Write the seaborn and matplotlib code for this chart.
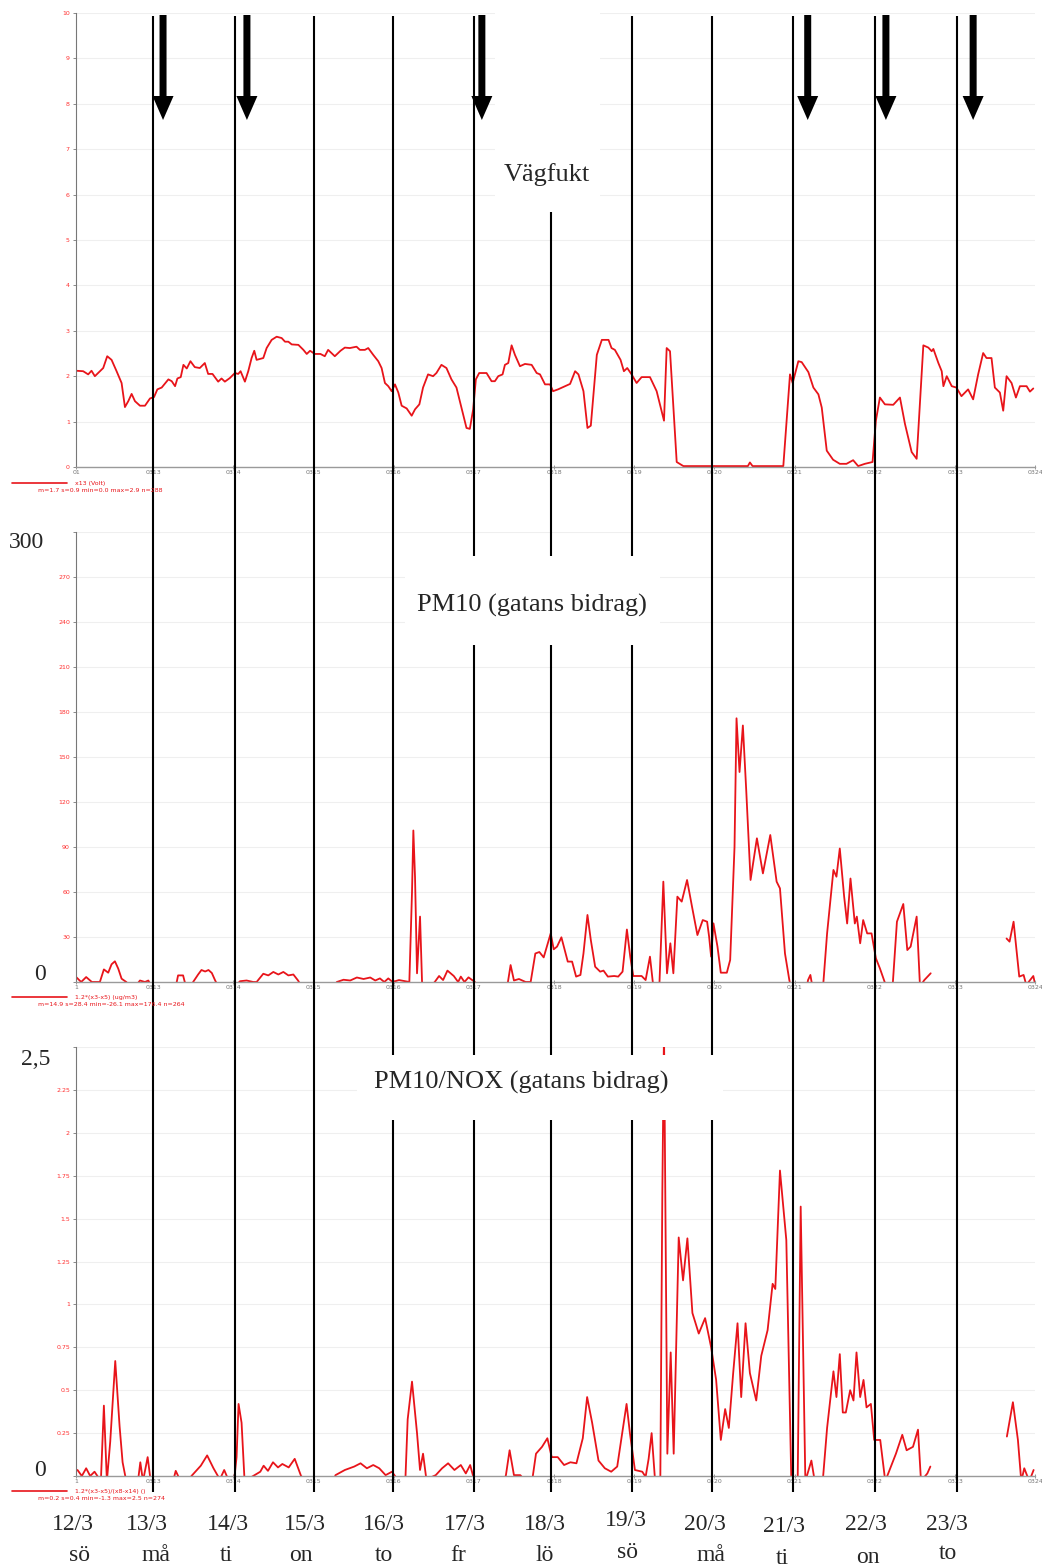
import numpy as np
import pandas as pd
import matplotlib
matplotlib.use("Agg")
import matplotlib.pyplot as plt
import seaborn as sns
from matplotlib.patches import Rectangle

# ---------------- data (hours since 12/3 00:00) ----------------
nan = np.nan

vagfukt_h = [1, 3.1, 4.6, 5.6, 6.6, 8.1, 9.1, 10.3, 11.6, 13.1, 14.6, 15.6, 16.6, 17.6, 18.6, 20.1,
             21.6, 23.1, 24.3, 25.3, 26.6, 28.6, 29.6, 30.6, 31.3, 32.3, 33.1, 34.1, 35.2, 36.5, 38,
             39.5, 40.5, 41.8, 43.5, 44.5, 45.5, 47, 48.5, 49.5, 50.2, 51.5, 52.5, 53.5, 54.3, 55,
             57, 58, 59.5, 61, 62.5, 63.5, 64.5, 65.5, 67.5, 69, 70, 71, 72.4, 74.1, 75.4, 76.4,
             78.4, 80.1, 81.4, 82.9, 84.9, 85.9, 87.4, 88.4, 89.9, 91.4, 92.4, 93.4, 94.4, 95.4,
             96.4, 97.4, 98.4, 99.9, 101.4, 102.4, 103.7, 104.8, 106.3, 107.8, 108.8, 110.3, 111.8,
             113.3, 114.8, 116.3, 117.8, 118.8, 119.8, 120.6, 121.6, 123.8, 125.3, 126.3, 127.3,
             128.6, 129.3, 130.3, 131.3, 132.3, 133.8, 135.3, 137.3, 138.8, 139.8, 141.3, 142.8,
             143.7, 145.2, 147.3, 148.8, 150.3, 151.3, 152.8, 154.0, 155.0, 156.8, 158.3, 160.3,
             161.2, 162.2, 163.9, 164.9, 165.9, 167.2, 168.7, 170.2, 172.7, 174.7, 176.9, 177.7,
             178.7, 180.7, 182.7, 202.0, 202.6, 203.4, 212.6, 214.6, 215.4, 217.1, 218.1, 220.1,
             221.6, 223.1, 224.1, 225.6, 227.5, 229.5, 231.5, 233.5, 235, 237, 239.3, 240.3, 241.5,
             243, 245.5, 247.5, 249, 251, 252.5, 254.5, 256, 257, 257.5, 259, 260, 260.5, 261.5,
             263, 264.4, 265.9, 267.9, 269.4, 270.9, 272.4, 273.4, 274.9, 275.9, 277.4, 278.4,
             279.4, 280.9, 282.2, 283.4, 285.4, 286.4, 287.4]
vagfukt_v = [2.12, 2.11, 2.04, 2.12, 2.0, 2.11, 2.18, 2.44, 2.36, 2.11, 1.85, 1.32, 1.45, 1.61, 1.45,
             1.35, 1.35, 1.51, 1.54, 1.71, 1.75, 1.93, 1.89, 1.78, 1.95, 1.98, 2.25, 2.17, 2.33, 2.2,
             2.18, 2.29, 2.05, 2.05, 1.88, 1.95, 1.88, 1.96, 2.07, 2.05, 2.11, 1.88, 2.11, 2.4, 2.56,
             2.36, 2.4, 2.62, 2.8, 2.87, 2.84, 2.76, 2.76, 2.7, 2.69, 2.58, 2.49, 2.56, 2.49, 2.49,
             2.44, 2.58, 2.44, 2.56, 2.63, 2.62, 2.65, 2.58, 2.58, 2.62, 2.47, 2.33, 2.18, 1.85, 1.78,
             1.67, 1.82, 1.64, 1.35, 1.29, 1.13, 1.27, 1.38, 1.75, 2.04, 2.0, 2.07, 2.25, 2.18, 1.93,
             1.75, 1.31, 0.86, 0.84, 1.27, 1.93, 2.07, 2.07, 1.89, 1.89, 2.0, 2.04, 2.25, 2.29, 2.68,
             2.47, 2.22, 2.27, 2.25, 2.07, 2.04, 1.82, 1.82, 1.67, 1.71, 1.78, 1.83, 2.11, 2.04, 1.67,
             0.86, 0.91, 2.47, 2.8, 2.8, 2.62, 2.58, 2.36, 2.11, 2.18, 2.04, 1.85, 1.98, 1.98, 1.67,
             1.02, 2.62, 2.55, 0.11, 0.02, 0.02, 0.1, 0.02, 0.02, 2.04, 1.85, 2.33, 2.31, 2.09, 1.75,
             1.6, 1.31, 0.36, 0.16, 0.07, 0.07, 0.15, 0.02, 0.07, 0.11, 1.02, 1.53, 1.38, 1.37, 1.53,
             0.95, 0.33, 0.18, 2.68, 2.63, 2.55, 2.6, 2.29, 2.11, 1.78, 2.0, 1.78, 1.75, 1.56, 1.71,
             1.49, 2.04, 2.51, 2.4, 2.4, 1.75, 1.64, 1.24, 2.0, 1.85, 1.53, 1.78, 1.78, 1.66, 1.73]

pm10_h = [1, 2.5, 4, 5.7, 8.1, 9.3, 10.6, 11.6, 12.6, 13.6, 14.6, 16, 18, 20.1, 21.6, 22.6, 24, 30,
          31.1, 31.5, 33, 33.5, 35, 36, 37.5, 38.5, 39.6, 40.6, 41.6, 42.6, 44, 48, 50, 52, 54, 55,
          57, 58.5, 60, 61.5, 63, 64.5, 66, 67.4, 69, 78, 79, 81, 83, 85, 87, 89, 90.5, 91.9, 93.2,
          94.4, 95.7, 97.6, 100.7, 101.5, 101.9, 102.4, 103, 103.9, 104.5, 106, 108.3, 109.6, 110.8,
          112.1, 114, 115.3, 116.1, 117.2, 118.4, 120.3, 122, 129, 130.2, 131, 132, 133.5, 135.5,
          137, 138.4, 139.6, 140.9, 143, 143.9, 144.9, 146.2, 148.1, 149.4, 150.6, 151.9, 152.8,
          154, 155, 156.3, 157.8, 158.8, 160.1, 162, 163.2, 164.5, 165.8, 166.8, 167.7, 170.2,
          171.4, 172.7, 173.7, 175.5, 176.7, 177.8, 178.8, 179.7, 180.9, 182.2, 183.8, 185.3,
          186.9, 188.5, 189.8, 190.4, 191, 191.7, 192.9, 193.9, 195.7, 196.7, 198, 198.6, 199.5,
          200.5, 201.5, 202.8, 204.7, 206.5, 208.7, 210.6, 211.6, 213.1, 214.4, 215, 219.5, 220,
          220.7, 221.3, 224.5, 225.7, 227.6, 228.5, 229.5, 230.8, 231.7, 232.7, 234, 234.6, 235.6,
          236.5, 237.7, 239, 240.3, 241.5, 243.4, 245.3, 246.6, 248.5, 249.7, 250.7, 252.5, 253.5,
          254.8, 256.7, nan, 279.4, 280.3, 281.5, 283.2, 284.5, 285.3, 287.4, 288]
pm10_v = [3.3, 0, 3.3, 0, 0, 8.4, 6.2, 11.8, 13.8, 8.9, 2.2, 0, -5, 1, 0, 1, -5, -5, 0, 4.4, 4.4, 0,
          -5, 0, 5, 8, 7, 8, 6, 1, -5, -5, 0.5, 1, 0, 0, 5.5, 4.4, 6.7, 5, 6.7, 4.4, 5, 1, -5, -5, 0,
          1.5, 1, 3, 2, 3, 1, 2.4, 0, 2.4, 0, 1.3, 0, 60, 101, 70, 5.8, 43.6, 0, -5, 0, 4, 1.3, 7.6,
          4, 0, 3.6, 0, 3.1, 0, -5, -5, 0, 11.3, 1, 2, 0, 0, 19, 20, 16.4, 32.4, 21.8, 23.6, 29.8,
          13.6, 13.6, 3.6, 4.7, 19, 44.7, 28, 10.2, 6.9, 7.6, 3.6, 4, 3.6, 6.9, 35, 16.9, 4, 4, 1.3,
          16.9, -3, -3, 66.9, 5.8, 25.8, 5.8, 56.9, 53.6, 68, 50, 31.3, 41.3, 40.2, 30.2, 16.9, 39.1,
          23.6, 6.2, 6.2, 14.7, 90, 175.8, 140, 171, 128, 68, 95.8, 72.4, 98, 66.9, 62.4, 19, 1.3,
          -5, -5, 1.3, 4.7, -3, -3, 32.4, 74.7, 70.2, 89, 57, 39, 69, 39, 43.6, 25.8, 41.3, 32.4,
          32.4, 15.8, 9.1, -3, -3, 40.2, 52, 21.3, 23.6, 43.6, -3, 1.3, 5.8, nan, 29, 26.9, 40.2,
          3.6, 4.7, -2, 4, -2]

ratio_h = [1.4, 2.7, 4, 5.2, 6.5, 8.4, 9.3, 10.2, 11.2, 12.7, 14, 14.9, 16, 19.5, 20.2, 21, 22.4,
           23.3, 30, 30.8, 32, 35, 35.5, 38.3, 40.2, 42.1, 44, 45.3, 46.5, 48.3, 49, 49.6, 50.5,
           51.4, 56.1, 57.1, 58.4, 59.9, 61.4, 62.7, 64.6, 66.4, 68.3, 70, 78, 78.6, 81.4, 84.2,
           86.1, 88, 89.9, 91.7, 93.6, 95.5, 97.5, 99.5, 100.2, 101.5, 103, 103.9, 104.8, 105.8,
           108.6, 110.5, 112.3, 114.2, 116.1, 117.6, 118.9, 120.2, 129, 129.6, 130.7, 132, 133.9,
           135, 137.5, 138.6, 140.4, 142, 143.3, 145.1, 147, 148.9, 150.7, 152.6, 153.9, 155.4,
           157.3, 159.2, 161.1, 162.9, 164.4, 165.7, 166.7, 168.2, 170.4, 171.4, 172.3, 173.2,
           174.2, 175.8, 176.4, 176.9, 177.9, 178.9, 179.8, 181.3, 182.6, 183.9, 185.4, 187.3,
           189.2, 191, 192.5, 193.9, 195.2, 196.3, 197.6, 198.9, 200, 201.3, 202.6, 204.5, 206,
           207.9, 209.4, 210.2, 211.6, 213.5, 215, 216.9, 217.8, 219.2, 221, 222, 224.4, 225.7,
           227.6, 228.5, 229.5, 230.4, 231.3, 232.6, 233.6, 234.5, 235.6, 236.6, 237.5, 238.8,
           239.8, 241.6, 243.1, 246.3, 248.2, 249.5, 251.4, 252.9, 253.8, 255.7, 256.6, nan,
           279.5, 281.3, 282.8, 283.8, 284.7, 286.2, 287.5]
ratio_v = [0.035, 0, 0.045, 0, 0.025, -0.03, 0.41, -0.03, 0.2, 0.67, 0.29, 0.08, -0.03, -0.03, 0.08,
           -0.03, 0.11, -0.03, -0.03, 0.03, -0.02, -0.02, 0, 0.06, 0.12, 0.045, -0.02, 0.035, -0.02,
           -0.02, 0.11, 0.42, 0.31, -0.03, 0.025, 0.06, 0.03, 0.08, 0.05, 0.07, 0.05, 0.1, 0, -0.03,
           -0.03, 0.005, 0.035, 0.055, 0.074, 0.045, 0.064, 0.045, 0.005, 0.025, -0.03, -0.03, 0.33,
           0.55, 0.25, 0.035, 0.13, -0.02, 0.005, 0.045, 0.074, 0.035, 0.064, 0.015, 0.064, -0.03,
           -0.03, 0.005, 0.15, 0.005, 0.005, -0.02, -0.02, 0.13, 0.17, 0.22, 0.11, 0.11, 0.064, 0.08,
           0.074, 0.22, 0.46, 0.31, 0.09, 0.045, 0.025, 0.055, 0.25, 0.42, 0.25, 0.035, 0.025,
           -0.005, 0.1, 0.25, -0.02, -0.02, 1.65, 2.6, 0.13, 0.72, 0.13, 1.39, 1.14, 1.385, 0.95,
           0.83, 0.92, 0.75, 0.56, 0.21, 0.39, 0.28, 0.6, 0.89, 0.46, 0.89, 0.6, 0.44, 0.7, 0.85,
           1.12, 1.09, 1.78, 1.375, -0.03, -0.03, 1.57, -0.03, 0.09, -0.03, -0.03, 0.28, 0.61, 0.46,
           0.71, 0.37, 0.37, 0.5, 0.44, 0.72, 0.46, 0.56, 0.4, 0.42, 0.21, 0.21, -0.03, 0.13, 0.24,
           0.15, 0.17, 0.27, -0.03, 0.015, 0.055, nan, 0.23, 0.43, 0.21, -0.03, 0.045, -0.03, 0.035]

# day boundary lines and arrows (hours)
marker_lines_h = [24, 48.5, 72.2, 95.8, 120, 143.2, 167.3, 191.3, 215.5, 240, 264.6]
arrow_h = [27.0, 52.1, 122.4, 219.9, 243.3, 269.4]

tick_hours = [1] + [24 * d for d in range(1, 13)]
tick_days = ["0313", "0314", "0315", "0316", "0317", "0318", "0319", "0320", "0321", "0322", "0323", "0324"]

date_labels = ["12/3", "13/3", "14/3", "15/3", "16/3", "17/3", "18/3", "19/3", "20/3", "21/3", "22/3", "23/3"]
weekday_labels = ["sö", "må", "ti", "on", "to", "fr", "lö", "sö", "må", "ti", "on", "to"]

panel_titles = ["Vägfukt", "PM10 (gatans bidrag)", "PM10/NOX (gatans bidrag)"]
legend_names = ["x13 (Volt)", "1.2*(x3-x5) (ug/m3)", "1.2*(x3-x5)/(x8-x14) ()"]
legend_stats = ["m=1.7 s=0.9 min=0.0 max=2.9 n=288",
                "m=14.9 s=28.4 min=-26.1 max=176.4 n=264",
                "m=0.2 s=0.4 min=-1.3 max=2.5 n=274"]

# ---------------- layout ----------------
sns.set_theme(style="white")
plt.rcParams["font.family"] = ["DejaVu Sans"]
SERIF = ["Liberation Serif", "DejaVu Serif"]
RED = "#e8141a"

W, H = 1042, 1566
X0, PXH = 72.8, 3.342  # pixel of hour 0, pixels per hour
fig = plt.figure(figsize=(W / 100, H / 100), dpi=100)

# hand-placed label positions (pixels) of the date row
date_px = [(73, 1530), (147, 1530), (228, 1530), (305, 1530), (384, 1530), (465, 1530),
           (545, 1530), (626, 1526), (705, 1530), (784, 1532), (866, 1530), (947, 1530)]
wday_px = [(80, 1561), (156, 1561), (226, 1561), (301, 1561), (384, 1561), (458, 1561),
           (545, 1561), (627, 1558), (711, 1561), (782, 1564), (868, 1563), (948, 1559)]


def hx(px):
    return (px - X0) / PXH


def frame(h, v):
    df = pd.DataFrame({"h": h, "v": v})
    df["seg"] = df["v"].isna().cumsum()
    return df.dropna()


def make_panel(top_px, bot_px, df, ylim, yticks, ylabels, first_lab):
    l = X0 + 1 * PXH
    r = X0 + 288 * PXH
    ax = fig.add_axes([l / W, 1 - bot_px / H, (r - l) / W, (bot_px - top_px) / H])
    ax.set_facecolor("white")
    sns.lineplot(data=df, x="h", y="v", units="seg", estimator=None, color=RED,
                 lw=1.3, ax=ax, legend=False)
    ax.set_xlim(1, 288)
    ax.set_ylim(*ylim)
    ax.set_yticks(yticks)
    ax.set_yticklabels(ylabels)
    ax.set_xticks(tick_hours)
    ax.set_xticklabels([first_lab] + tick_days)
    ax.set_xlabel("")
    ax.set_ylabel("")
    for t in yticks:
        ax.axhline(t, color="#efefef", lw=0.8, zorder=0)
    for s in ["top", "right"]:
        ax.spines[s].set_visible(False)
    ax.spines["left"].set_color("#777777")
    ax.spines["left"].set_linewidth(0.8)
    ax.spines["bottom"].set_color("#9a9a9a")
    ax.spines["bottom"].set_linewidth(1.0)
    ax.tick_params(axis="y", colors="#777777", labelcolor="#ff3030", labelsize=4.5,
                   length=2.5, width=0.6, pad=2, left=True)
    ax.tick_params(axis="x", colors="#888888", labelcolor="#777777", labelsize=4.5,
                   length=3, width=0.6, direction="inout", pad=1, bottom=True)
    return ax


make_panel(13, 467, frame(vagfukt_h, vagfukt_v), (0, 10), list(range(0, 11)),
           [str(i) for i in range(0, 11)], "01")
pm_ticks = list(range(0, 301, 30))
make_panel(532, 982, frame(pm10_h, pm10_v), (0, 300), pm_ticks,
           [""] + [str(t) for t in pm_ticks[1:-1]] + [""], "1")
r_ticks = [i * 0.25 for i in range(11)]
r_labels = [""] + ["0.25", "0.5", "0.75", "1", "1.25", "1.5", "1.75", "2", "2.25"] + [""]
make_panel(1047, 1476, frame(ratio_h, ratio_v), (0, 2.5), r_ticks, r_labels, "1")

# ---------------- overlay (figure-wide annotations) ----------------
ov = fig.add_axes([0, 0, 1, 1], zorder=10)
ov.set_xlim(hx(0), hx(W))
ov.set_ylim(H, 0)
ov.axis("off")
ov.patch.set_alpha(0)

ov.vlines(marker_lines_h, 16, 1492, color="black", lw=1.5, zorder=2)

for h in arrow_h:
    ov.arrow(h, 15, 0, 105, width=7 / PXH, head_width=21 / PXH, head_length=24,
             length_includes_head=True, fc="black", ec="black", lw=0, zorder=5)

# white text boxes that cover the lines
boxes = [(495, 12, 600, 212), (405, 556, 660, 645), (357, 1055, 723, 1120)]
for (x1, y1, x2, y2) in boxes:
    ov.add_patch(Rectangle((hx(x1), y1), hx(x2) - hx(x1), y2 - y1,
                           facecolor="white", edgecolor="none", zorder=3))

title_pos = [(547, 181), (532, 612), (521, 1089)]
for t, (x, y) in zip(panel_titles, title_pos):
    ov.text(hx(x), y, t, family=SERIF, size=19, ha="center", va="baseline", zorder=4)

# big axis end labels
for t, (x, y) in zip(["300", "0", "2,5", "0"], [(26, 548), (40, 980), (36, 1065), (40, 1476)]):
    ov.text(hx(x), y, t, family=SERIF, size=17, ha="center", va="baseline", zorder=4)

# legends under each panel
leg_y = [483, 997, 1491]
for name, stats, y in zip(legend_names, legend_stats, leg_y):
    ov.plot([hx(12), hx(67)], [y, y], color=RED, lw=1.2, zorder=4)
    ov.text(hx(75), y, name, color=RED, size=4.5, ha="left", va="center", zorder=4)
    ov.text(hx(38), y + 8, stats, color=RED, size=4.5, ha="left", va="center", zorder=4)

# date / weekday labels
for d, wd, (dx, dy), (wx, wy) in zip(date_labels, weekday_labels, date_px, wday_px):
    ov.text(hx(dx), dy, d, family=SERIF, size=17, ha="center", va="baseline", zorder=4)
    ov.text(hx(wx), wy, wd, family=SERIF, size=17, ha="center", va="baseline", zorder=4)

fig.savefig("out.png", dpi=100, facecolor="white")
